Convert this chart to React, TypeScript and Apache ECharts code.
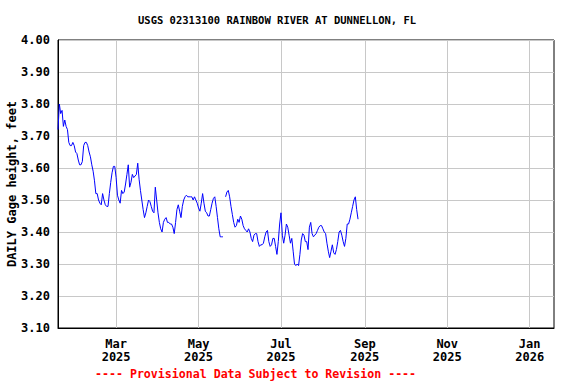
import React, { useEffect, useRef } from "react";
import * as echarts from "echarts";

// Daily gage height readings (feet), starting 2025-01-17, one per day
const startYear = 2025;
const startMonth = 0; // January
const startDay = 17;
const gageHeight: (number | null)[] = [
  3.72, 3.80, 3.77, 3.78, 3.73, 3.75, 3.73, 3.72, 3.68, 3.67,
  3.67, 3.68, 3.67, 3.65, 3.645, 3.625, 3.61, 3.61, 3.62, 3.67,
  3.68, 3.68, 3.67, 3.65, 3.635, 3.61, 3.59, 3.56, 3.52, 3.52,
  3.50, 3.49, 3.485, 3.52, 3.50, 3.485, 3.48, 3.48, 3.52, 3.555,
  3.585, 3.605, 3.605, 3.57, 3.515, 3.50, 3.49, 3.53, 3.52, 3.525,
  3.55, 3.58, 3.61, 3.54, 3.555, 3.58, 3.57, 3.575, 3.58, 3.615,
  3.565, 3.53, 3.50, 3.47, 3.445, 3.46, 3.48, 3.50, 3.495, 3.48,
  3.465, 3.46, 3.54, 3.50, 3.46, 3.43, 3.41, 3.40, 3.43, 3.44,
  3.445, 3.43, 3.43, 3.425, 3.425, 3.415, 3.395, 3.43, 3.47, 3.485,
  3.465, 3.445, 3.48, 3.50, 3.51, 3.515, 3.51, 3.51, 3.51, 3.51,
  3.50, 3.51, 3.50, 3.49, 3.475, 3.465, 3.49, 3.52, 3.49, 3.465,
  3.46, 3.45, 3.45, 3.47, 3.49, 3.505, 3.51, 3.48, 3.445, 3.41,
  3.385, 3.385, 3.385, null, 3.51, 3.525, 3.53, 3.51, 3.48, 3.455,
  3.43, 3.415, 3.42, 3.44, 3.43, 3.45, 3.44, 3.42, 3.41, 3.405,
  3.40, 3.41, 3.40, 3.38, 3.37, 3.39, 3.395, 3.395, 3.37, 3.355,
  3.36, 3.36, 3.365, 3.385, 3.40, 3.405, 3.37, 3.355, 3.36, 3.38,
  3.38, 3.355, 3.33, 3.37, 3.425, 3.46, 3.39, 3.365, 3.39, 3.425,
  3.415, 3.39, 3.365, 3.38, 3.34, 3.30, 3.295, 3.30, 3.295, 3.33,
  3.375, 3.395, 3.39, 3.37, 3.37, 3.345, 3.415, 3.43, 3.395, 3.385,
  3.39, 3.395, 3.405, 3.415, 3.42, 3.42, 3.41, 3.40, 3.395, 3.365,
  3.34, 3.32, 3.34, 3.36, 3.335, 3.33, 3.345, 3.37, 3.40, 3.405,
  3.39, 3.37, 3.355, 3.38, 3.425, 3.425, 3.44, 3.46, 3.48, 3.50,
  3.51, 3.47, 3.44,
];

// X-axis tick dates (first of month) and their labels
const tickDates: [number, number][] = [
  [2025, 2], [2025, 4], [2025, 6], [2025, 8], [2025, 10], [2026, 0],
];
const tickMonthLabels = ["Mar", "May", "Jul", "Sep", "Nov", "Jan"];
const tickYearLabels = ["2025", "2025", "2025", "2025", "2025", "2026"];

const xMinDate: [number, number, number] = [2025, 0, 17];
const xMaxDate: [number, number, number] = [2026, 0, 19];

const yMin = 3.1;
const yMax = 4.0;
const yInterval = 0.1;

const titleText = "USGS 02313100 RAINBOW RIVER AT DUNNELLON, FL";
const yAxisName = "DAILY Gage height, feet";
const footerText = "---- Provisional Data Subject to Revision ----";

const MONO = "DejaVu Sans Mono";

export default function App() {
  const ref = useRef<HTMLDivElement>(null);

  useEffect(() => {
    if (!ref.current) return;
    const chart = echarts.init(ref.current, undefined, { renderer: "svg" });

    const seriesData = gageHeight.map((v, i) => [
      new Date(startYear, startMonth, startDay + i).getTime(),
      v,
    ]);
    const tickValues = tickDates.map(([y, m]) => new Date(y, m, 1).getTime());

    chart.setOption({
      animation: false,
      backgroundColor: "#ffffff",
      title: {
        text: titleText,
        left: 138,
        top: 14,
        padding: 0,
        textStyle: {
          fontFamily: MONO,
          fontWeight: "bold",
          fontSize: 10.5,
          color: "#000",
        },
      },
      grid: {
        left: 58,
        right: 22,
        top: 40,
        bottom: 56,
        containLabel: false,
        outerBoundsMode: "none",
        show: true,
        borderColor: "#000",
        borderWidth: 1,
        backgroundColor: "transparent",
      },
      xAxis: {
        type: "value",
        min: new Date(...xMinDate).getTime(),
        max: new Date(...xMaxDate).getTime(),
        axisLine: { show: true, lineStyle: { color: "#000", width: 1 } },
        axisTick: { show: false, customValues: tickValues },
        splitLine: { show: true, lineStyle: { color: "#c8c8c8", width: 1 } },
        axisLabel: {
          customValues: tickValues,
          showMinLabel: true,
          showMaxLabel: true,
          hideOverlap: false,
          margin: 9,
          fontFamily: MONO,
          fontWeight: "bold",
          fontSize: 12,
          color: "#000",
          lineHeight: 13,
          formatter: (val: number) => {
            const idx = tickValues.indexOf(val);
            if (idx < 0) return "";
            return tickMonthLabels[idx] + "\n" + tickYearLabels[idx];
          },
        },
      },
      yAxis: {
        type: "value",
        min: yMin,
        max: yMax,
        interval: yInterval,
        name: yAxisName,
        nameLocation: "middle",
        nameGap: 40,
        nameMoveOverlap: false,
        nameTextStyle: {
          fontFamily: MONO,
          fontWeight: "bold",
          fontSize: 12,
          color: "#000",
        },
        axisLine: { show: true, lineStyle: { color: "#000", width: 1 } },
        axisTick: { show: false },
        splitLine: { show: true, lineStyle: { color: "#c8c8c8", width: 1 } },
        axisLabel: {
          margin: 8,
          fontFamily: MONO,
          fontWeight: "bold",
          fontSize: 12,
          color: "#000",
          formatter: (v: number) => v.toFixed(2),
        },
      },
      graphic: [
        {
          type: "text",
          left: 95,
          top: 368,
          style: {
            text: footerText,
            fill: "#ff0000",
            font: `bold 11.6px "${MONO}"`,
          },
        },
      ],
      series: [
        {
          type: "line",
          data: seriesData,
          showSymbol: false,
          connectNulls: false,
          lineStyle: { color: "#0000ff", width: 1 },
          itemStyle: { color: "#0000ff" },
          silent: true,
        },
      ],
    });

    return () => chart.dispose();
  }, []);

  return (
    <div
      ref={ref}
      style={{
        position: "fixed",
        left: 0,
        top: 0,
        width: 576,
        height: 384,
        background: "#fff",
      }}
    />
  );
}
